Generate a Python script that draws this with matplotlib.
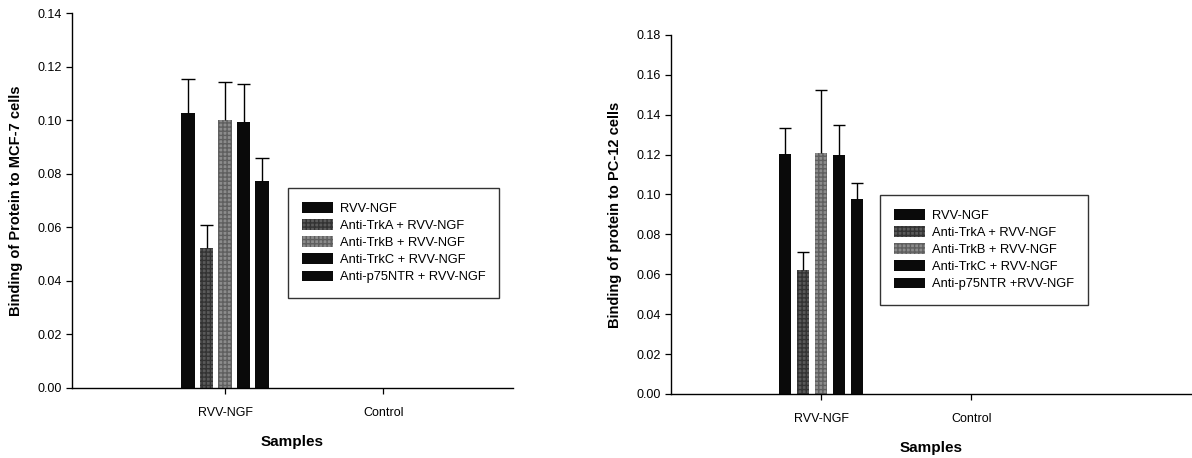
import matplotlib
matplotlib.use("Agg")
import matplotlib.pyplot as plt
import numpy as np

plt.rcParams['font.family'] = ['Liberation Sans', 'DejaVu Sans']

# Data
categories = ['RVV-NGF', 'Control']
series = ['RVV-NGF', 'Anti-TrkA + RVV-NGF', 'Anti-TrkB + RVV-NGF',
          'Anti-TrkC + RVV-NGF', 'Anti-p75NTR + RVV-NGF']
series_pc12 = ['RVV-NGF', 'Anti-TrkA + RVV-NGF', 'Anti-TrkB + RVV-NGF',
               'Anti-TrkC + RVV-NGF', 'Anti-p75NTR +RVV-NGF']

mcf7_mean = [0.1027, 0.0523, 0.1000, 0.0993, 0.0772]
mcf7_top = [0.1154, 0.0608, 0.1142, 0.1135, 0.0857]

pc12_mean = [0.1203, 0.0620, 0.1210, 0.1197, 0.0978]
pc12_top = [0.1334, 0.0712, 0.1524, 0.1349, 0.1058]

face = ['#0a0a0a', '#5a5a5a', '#8c8c8c', '#0a0a0a', '#0a0a0a']
hatches = [None, '++++', '++++', None, None]
hatch_col = ['#0a0a0a', '#333333', '#5f5f5f', '#0a0a0a', '#0a0a0a']

fig = plt.figure(figsize=(11.92, 4.58), dpi=100)


def draw(ax, mean, top, labels, step, width, ymax, yticks, ylabel, xlim, leg_anchor):
    for i, (m, t) in enumerate(zip(mean, top)):
        x = 1 + (i - 2) * step
        plt.rcParams['hatch.color'] = hatch_col[i]
        ax.bar(x, m, width, color=face[i], hatch=hatches[i],
               edgecolor=hatch_col[i], linewidth=0.0, label=labels[i], zorder=2)
        # upper error bar only
        ax.vlines(x, m, t, color='black', linewidth=1.0, zorder=3)
        ax.hlines(t, x - width / 2, x + width / 2, color='black',
                  linewidth=1.0, zorder=3)
    ax.set_xlim(*xlim)
    ax.set_ylim(0, ymax)
    ax.set_yticks(yticks)
    ax.set_yticklabels(['%.2f' % v for v in yticks], fontsize=9)
    ax.set_xticks([1, 2])
    ax.set_xticklabels(categories, fontsize=9)
    ax.tick_params(axis='both', direction='out', length=4, width=0.9)
    ax.tick_params(axis='x', pad=10)
    for s in ['top', 'right']:
        ax.spines[s].set_visible(False)
    for s in ['left', 'bottom']:
        ax.spines[s].set_linewidth(1.0)
    ax.set_ylabel(ylabel, fontsize=10.5, fontweight='bold', labelpad=10)
    ax.set_xlabel('Samples', fontsize=11, fontweight='bold', labelpad=11)
    leg = ax.legend(loc='upper left', bbox_to_anchor=leg_anchor,
                    bbox_transform=fig.transFigure, fontsize=9.3,
                    frameon=True, fancybox=False, edgecolor='black',
                    handlelength=2.4, handleheight=0.9, handletextpad=0.5,
                    labelspacing=0.33, borderpad=1.1, borderaxespad=0)
    leg.get_frame().set_linewidth(1.0)


ax1 = fig.add_axes([0.0604, 0.153, 0.370, 0.8186])
draw(ax1, mcf7_mean, mcf7_top, series, 0.117, 0.086, 0.14,
     np.arange(0, 0.141, 0.02), 'Binding of Protein to MCF-7 cells',
     (0.032, 2.82), (0.2416, 0.5895))

ax2 = fig.add_axes([0.563, 0.140, 0.437, 0.7836])
draw(ax2, pc12_mean, pc12_top, series_pc12, 0.12, 0.083, 0.18,
     np.arange(0, 0.181, 0.02), 'Binding of protein to PC-12 cells',
     (0.0, 3.47), (0.7383, 0.5742))

fig.savefig('out.png', dpi=100)
